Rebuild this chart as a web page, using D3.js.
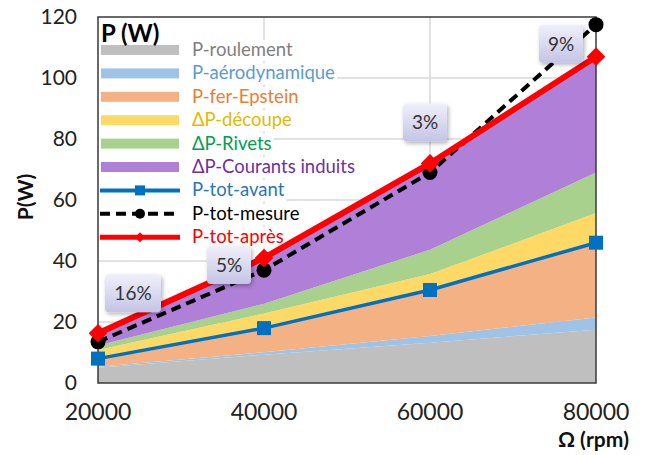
<!DOCTYPE html>
<html>
<head>
<meta charset="utf-8">
<script src="https://cdn.jsdelivr.net/npm/d3@7"></script>
<style>
  body { margin: 0; background: #fff; }
  text { font-family: Lato, "Open Sans", sans-serif; }
</style>
</head>
<body>
<div id="chart"></div>
<script>
const speeds = [20000, 40000, 60000, 80000];

// stacked loss components (W)
const pRoulement = [5, 9.3, 13.2, 17.5];
const pAero = [0.3, 0.8, 2.2, 4];
const pFer = [2.7, 8.2, 15.3, 24.5];
const dDecoupe = [2.8, 4.5, 5, 9.7];
const dRivets = [1.5, 3.2, 8, 13.3];
const dCourants = [4, 15, 28.3, 38];

// totals
const pTotAvant = [8, 18, 30.5, 46];
const pTotMesure = [13.5, 37, 69, 117.5];
const pTotApres = [16.3, 41, 72, 107];

const ecarts = ["16%", "5%", "3%", "9%"];

const xTicks = [20000, 40000, 60000, 80000];
const yTicks = [0, 20, 40, 60, 80, 100, 120];

const width = 645, height = 455;

const x = d3.scaleLinear().domain([20000, 80000]).range([98, 596]);
const y = d3.scaleLinear().domain([0, 120]).range([383, 17]);

const svg = d3.select("#chart").append("svg")
  .attr("width", width)
  .attr("height", height);

const defs = svg.append("defs");
const grad = defs.append("linearGradient").attr("id", "boxgrad")
  .attr("x1", 0).attr("y1", 0).attr("x2", 0).attr("y2", 1);
grad.append("stop").attr("offset", "0%").attr("stop-color", "#f0f0fa");
grad.append("stop").attr("offset", "100%").attr("stop-color", "#c4c4e6");
const shadow = defs.append("filter").attr("id", "shadow")
  .attr("x", "-30%").attr("y", "-30%").attr("width", "160%").attr("height", "160%");
shadow.append("feDropShadow").attr("dx", 1.5).attr("dy", 2).attr("stdDeviation", 2)
  .attr("flood-color", "#000").attr("flood-opacity", 0.3);

// gridlines
svg.append("g")
  .selectAll("line")
  .data(yTicks.filter(d => d > 0 && d < 120))
  .join("line")
  .attr("x1", x(20000)).attr("x2", x(80000))
  .attr("y1", d => y(d)).attr("y2", d => y(d))
  .attr("stroke", "#d9d9d9").attr("stroke-width", 1.5);

svg.append("g")
  .selectAll("line")
  .data(xTicks.slice(1, 3))
  .join("line")
  .attr("x1", d => x(d)).attr("x2", d => x(d))
  .attr("y1", y(120)).attr("y2", y(0))
  .attr("stroke", "#d9d9d9").attr("stroke-width", 1.5);

// stacked areas
const keys = ["roul", "aero", "fer", "dec", "riv", "cour"];
const series = [pRoulement, pAero, pFer, dDecoupe, dRivets, dCourants];
const areaColors = ["#bfbfbf", "#9dc3e6", "#f4b183", "#ffd966", "#a9d18e", "#b07fd8"];
const table = speeds.map((s, i) => {
  const row = { speed: s };
  keys.forEach((k, j) => row[k] = series[j][i]);
  return row;
});
const stacked = d3.stack().keys(keys)(table);

const area = d3.area()
  .x(d => x(d.data.speed))
  .y0(d => y(d[0]))
  .y1(d => y(d[1]));

svg.append("g")
  .selectAll("path")
  .data(stacked)
  .join("path")
  .attr("fill", (d, i) => areaColors[i])
  .attr("d", area);

// frame
svg.append("rect")
  .attr("x", x(20000)).attr("y", y(120))
  .attr("width", x(80000) - x(20000)).attr("height", y(0) - y(120))
  .attr("fill", "none").attr("stroke", "#3a3a3a").attr("stroke-width", 1.5);

// axes labels
svg.append("g")
  .selectAll("text")
  .data(yTicks)
  .join("text")
  .attr("x", 77).attr("y", d => y(d) + 7)
  .attr("text-anchor", "end")
  .attr("font-size", 21)
  .attr("fill", "#222")
  .text(d => d);

svg.append("g")
  .selectAll("text")
  .data(xTicks)
  .join("text")
  .attr("x", d => x(d)).attr("y", 420)
  .attr("text-anchor", "middle")
  .attr("font-size", 23)
  .attr("fill", "#222")
  .text(d => d);

svg.append("text")
  .attr("transform", "translate(33,197) rotate(-90)")
  .attr("text-anchor", "middle")
  .attr("font-size", 21).attr("font-weight", "bold")
  .attr("fill", "#111")
  .text("P(W)");

svg.append("text")
  .attr("x", 629).attr("y", 447)
  .attr("text-anchor", "end")
  .attr("font-size", 21).attr("font-weight", "bold")
  .attr("fill", "#111")
  .text("Ω (rpm)");

// legend
const legendItems = [
  { label: "P-roulement", color: "#7f7f7f", type: "area", fill: areaColors[0] },
  { label: "P-aérodynamique", color: "#5b9bd5", type: "area", fill: areaColors[1] },
  { label: "P-fer-Epstein", color: "#ed7d31", type: "area", fill: areaColors[2] },
  { label: "ΔP-découpe", color: "#e6b800", type: "area", fill: areaColors[3] },
  { label: "ΔP-Rivets", color: "#00a050", type: "area", fill: areaColors[4] },
  { label: "ΔP-Courants induits", color: "#7030a0", type: "area", fill: areaColors[5] },
  { label: "P-tot-avant", color: "#2e75b6", type: "avant" },
  { label: "P-tot-mesure", color: "#000", type: "mesure" },
  { label: "P-tot-après", color: "#ff0000", type: "apres" }
];

const legend = svg.append("g");

const rows = legend.selectAll("g.row")
  .data(legendItems)
  .join("g")
  .attr("class", "row")
  .attr("transform", (d, i) => `translate(0,${50 + i * 23.4})`);

rows.append("text")
  .attr("x", 192).attr("y", 6)
  .attr("font-size", 18.5)
  .attr("fill", d => d.color)
  .text(d => d.label)
  .each(function(d) { d.w = this.getComputedTextLength(); });

rows.insert("rect", "text")
  .attr("x", 99).attr("y", -10)
  .attr("width", d => 192 + d.w + 2 - 99).attr("height", 21)
  .attr("fill", "#fff");

rows.filter(d => d.type === "area").append("rect")
  .attr("x", 101).attr("y", -5).attr("width", 78).attr("height", 10)
  .attr("fill", d => d.fill);

rows.filter(d => d.type === "avant").call(g => {
  g.append("line").attr("x1", 100).attr("x2", 180).attr("y1", 0).attr("y2", 0)
    .attr("stroke", "#0070c0").attr("stroke-width", 4);
  g.append("rect").attr("x", 135).attr("y", -5).attr("width", 10).attr("height", 10)
    .attr("fill", "#0070c0");
});
rows.filter(d => d.type === "mesure").call(g => {
  g.append("line").attr("x1", 100).attr("x2", 180).attr("y1", 0).attr("y2", 0)
    .attr("stroke", "#000").attr("stroke-width", 4).attr("stroke-dasharray", "10,6");
  g.append("circle").attr("cx", 140).attr("cy", 0).attr("r", 5).attr("fill", "#000");
});
rows.filter(d => d.type === "apres").call(g => {
  g.append("line").attr("x1", 100).attr("x2", 180).attr("y1", 0).attr("y2", 0)
    .attr("stroke", "#ff0000").attr("stroke-width", 5);
  g.append("path").attr("d", "M140,-5L145,0L140,5L135,0Z").attr("fill", "#ff0000");
});

legend.append("text")
  .attr("x", 101).attr("y", 42)
  .attr("font-size", 24).attr("font-weight", "bold")
  .attr("fill", "#000")
  .text("P (W)");

// lines
const line = d3.line().x((d, i) => x(speeds[i])).y(d => y(d));

svg.append("path")
  .datum(pTotAvant)
  .attr("fill", "none").attr("stroke", "#0070c0").attr("stroke-width", 3.5)
  .attr("d", line);
svg.append("g")
  .selectAll("rect")
  .data(pTotAvant)
  .join("rect")
  .attr("x", (d, i) => x(speeds[i]) - 7).attr("y", d => y(d) - 7)
  .attr("width", 14).attr("height", 14)
  .attr("fill", "#0070c0");

svg.append("path")
  .datum(pTotMesure)
  .attr("fill", "none").attr("stroke", "#000").attr("stroke-width", 4)
  .attr("stroke-dasharray", "10,6")
  .attr("d", line);
svg.append("g")
  .selectAll("circle")
  .data(pTotMesure)
  .join("circle")
  .attr("cx", (d, i) => x(speeds[i])).attr("cy", d => y(d))
  .attr("r", 7.5).attr("fill", "#000");

svg.append("path")
  .datum(pTotApres)
  .attr("fill", "none").attr("stroke", "#ff0000").attr("stroke-width", 6)
  .attr("stroke-linejoin", "round")
  .attr("d", line);
svg.append("g")
  .selectAll("path")
  .data(pTotApres)
  .join("path")
  .attr("d", d3.symbol(d3.symbolDiamond2, 220))
  .attr("transform", (d, i) => `translate(${x(speeds[i])},${y(d)})`)
  .attr("fill", "#ff0000");

// percentage call-out boxes
const boxOffsets = [[35, -40], [-35, 7], [-5, -41], [-35, -13]];
const boxes = svg.append("g")
  .selectAll("g")
  .data(ecarts)
  .join("g")
  .attr("transform", (d, i) =>
    `translate(${x(speeds[i]) + boxOffsets[i][0]},${y(pTotApres[i]) + boxOffsets[i][1]})`);

boxes.append("rect")
  .attr("x", (d, i) => i === 0 ? -28 : -22).attr("y", -19)
  .attr("width", (d, i) => i === 0 ? 56 : 44).attr("height", 38)
  .attr("rx", 4)
  .attr("fill", "url(#boxgrad)")
  .attr("filter", "url(#shadow)");
boxes.append("text")
  .attr("x", 0).attr("y", 7)
  .attr("text-anchor", "middle")
  .attr("font-size", 19)
  .attr("fill", "#333")
  .text(d => d);
</script>
</body>
</html>
